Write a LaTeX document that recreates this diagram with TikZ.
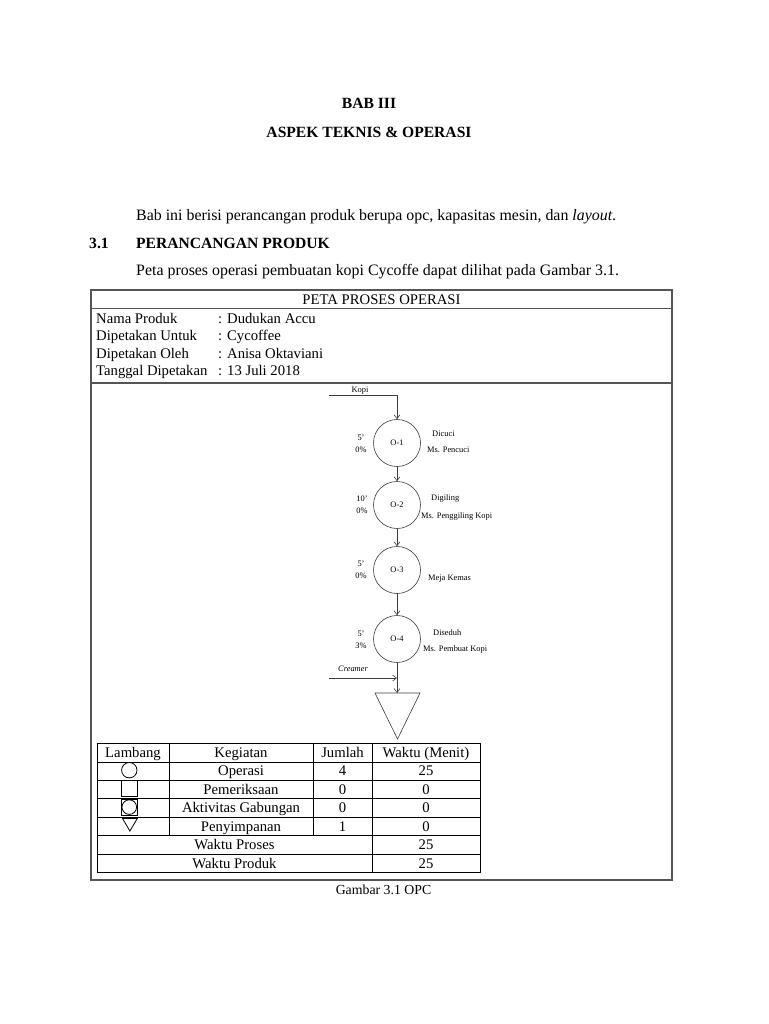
\documentclass[tikz,border=0pt]{standalone}
\usepackage{fontspec}
\setmainfont{Liberation Serif}
\usetikzlibrary{arrows.meta}
\definecolor{framec}{RGB}{85,85,85}
\definecolor{diagc}{RGB}{60,60,60}
\begin{document}
\begin{tikzpicture}[x=1pt,y=-1pt,
  txt/.style={font=\fontsize{14.7}{17}\selectfont, inner sep=0pt},
  body/.style={font=\fontsize{15.9}{18}\selectfont, inner sep=0pt},
  btxt/.style={font=\fontsize{15.6}{18}\selectfont\bfseries, inner sep=0pt},
  small/.style={font=\fontsize{8.4}{10}\selectfont, inner sep=0pt},
  opnode/.style={circle, draw=diagc, line width=0.6pt, minimum size=47pt, inner sep=0pt, font=\fontsize{8.4}{10}\selectfont},
  flow/.style={draw=diagc, line width=0.6pt, -{Straight Barb[length=4pt,width=6pt]}},
  framel/.style={draw=framec, line width=1.2pt},
  tbl/.style={draw=black, line width=0.9pt},
  sym/.style={draw=black, line width=0.8pt}]
\fill[white] (0,0) rectangle (768,1024);
\useasboundingbox (0,0) rectangle (768,1024);

% page text
\node[btxt, anchor=base] (bab) at (369,109) {BAB III};
\node[btxt, anchor=base] (aspek) at (369,138) {ASPEK TEKNIS \& OPERASI};
\node[body, anchor=base west] (intro) at (136,221) {Bab ini berisi perancangan produk berupa opc, kapasitas mesin, dan \textit{layout}.};
\node[btxt, anchor=base west] (secno) at (89,248) {3.1};
\node[btxt, anchor=base west] (sec) at (136,248) {PERANCANGAN PRODUK};
\node[body, anchor=base west] (peta) at (136,275) {Peta proses operasi pembuatan kopi Cycoffe dapat dilihat pada Gambar 3.1.};

% frame
\draw[framel] (91,290) rectangle (672,880);
\draw[framel] (91,308.5) -- (672,308.5);
\draw[framel] (91,383) -- (672,383);
\node[txt, anchor=base] (title) at (381.5,304) {PETA PROSES OPERASI};
\node[txt, anchor=base west] (h1) at (96,323) {Nama Produk};
\node[txt, anchor=base west] (h2) at (96,340.7) {Dipetakan Untuk};
\node[txt, anchor=base west] (h3) at (96,358.3) {Dipetakan Oleh};
\node[txt, anchor=base west] (h4) at (96,375.7) {Tanggal Dipetakan};
\node[txt, anchor=base west] (v1) at (218,323) {: Dudukan Accu};
\node[txt, anchor=base west] (v2) at (218,340.7) {: Cycoffee};
\node[txt, anchor=base west] (v3) at (218,358.3) {: Anisa Oktaviani};
\node[txt, anchor=base west] (v4) at (218,375.7) {: 13 Juli 2018};

% process chart
\node[opnode] (o1) at (397,443) {O-1};
\node[opnode] (o2) at (397,505) {O-2};
\node[opnode] (o3) at (397,570) {O-3};
\node[opnode] (o4) at (397,639) {O-4};

\coordinate (kopiS) at (329,395);
\node[small, anchor=base] (kopi) at (360,392) {Kopi};
\draw[flow] (kopiS) -| (o1.north);
\draw[flow] (o1) -- (o2);
\draw[flow] (o2) -- (o3);
\draw[flow] (o3) -- (o4);

\coordinate (tri) at (397,693);
\draw[draw=diagc, line width=0.6pt] (375,693) -- (420,693) -- (397.5,739) -- cycle;
\draw[flow] (o4.south) -- (tri);
\coordinate (cremS) at (329,678);
\coordinate (cremE) at (397,678);
\draw[flow] (cremS) -- (cremE);
\node[small, anchor=base, font=\fontsize{8.4}{10}\selectfont\itshape] (crem) at (353,671) {Creamer};

% left labels
\node[small, anchor=base] (t1a) at (361,440) {5'};
\node[small, anchor=base] (t1b) at (361,452) {0\%};
\node[small, anchor=base] (t2a) at (362,501) {10'};
\node[small, anchor=base] (t2b) at (362,513) {0\%};
\node[small, anchor=base] (t3a) at (361,566) {5'};
\node[small, anchor=base] (t3b) at (361,578) {0\%};
\node[small, anchor=base] (t4a) at (361,636) {5'};
\node[small, anchor=base] (t4b) at (361,648) {3\%};
% right labels
\node[small, anchor=base west] (r1a) at (432,436) {Dicuci};
\node[small, anchor=base west] (r1b) at (427,452) {Ms. Pencuci};
\node[small, anchor=base west] (r2a) at (431,500) {Digiling};
\node[small, anchor=base west] (r2b) at (421,518) {Ms. Penggiling Kopi};
\node[small, anchor=base west] (r3a) at (428,580) {Meja Kemas};
\node[small, anchor=base west] (r4a) at (433,635) {Diseduh};
\node[small, anchor=base west] (r4b) at (423,651) {Ms. Pembuat Kopi};

% summary table
\draw[tbl] (97,743) rectangle (480,872);
\foreach \yy in {762,780,798.5,817,835.5,854} \draw[tbl] (97,\yy) -- (480,\yy);
\draw[tbl] (169,743) -- (169,835.5);
\draw[tbl] (313,743) -- (313,835.5);
\draw[tbl] (372,743) -- (372,872);

\node[txt, anchor=base] (c11) at (133,757.5) {Lambang};
\node[txt, anchor=base] (c12) at (241,757.5) {Kegiatan};
\node[txt, anchor=base] (c13) at (342.5,757.5) {Jumlah};
\node[txt, anchor=base] (c14) at (426,757.5) {Waktu (Menit)};

\draw[sym] (129.3,770.2) circle (7.7);
\draw[sym] (121.7,780.7) rectangle (137.3,796);
\draw[sym] (121.7,799.3) rectangle (136.9,815);
\draw[sym] (129.3,807.1) circle (7.3);
\draw[sym] (122.5,818.5) -- (137.3,818.5) -- (129.9,831) -- cycle;

\node[txt, anchor=base] (c22) at (241,775.7) {Operasi};
\node[txt, anchor=base] (c23) at (342.5,775.7) {4};
\node[txt, anchor=base] (c24) at (426,775.7) {25};
\node[txt, anchor=base] (c32) at (241,794) {Pemeriksaan};
\node[txt, anchor=base] (c33) at (342.5,794) {0};
\node[txt, anchor=base] (c34) at (426,794) {0};
\node[txt, anchor=base] (c42) at (241,812.5) {Aktivitas Gabungan};
\node[txt, anchor=base] (c43) at (342.5,812.5) {0};
\node[txt, anchor=base] (c44) at (426,812.5) {0};
\node[txt, anchor=base] (c52) at (241,831) {Penyimpanan};
\node[txt, anchor=base] (c53) at (342.5,831) {1};
\node[txt, anchor=base] (c54) at (426,831) {0};
\node[txt, anchor=base] (c61) at (234.5,849.7) {Waktu Proses};
\node[txt, anchor=base] (c64) at (426,849.7) {25};
\node[txt, anchor=base] (c71) at (234.5,868) {Waktu Produk};
\node[txt, anchor=base] (c74) at (426,868) {25};

\node[txt, anchor=base, font=\fontsize{13.8}{16}\selectfont] (cap) at (383.5,894) {Gambar 3.1 OPC};
\end{tikzpicture}
\end{document}
